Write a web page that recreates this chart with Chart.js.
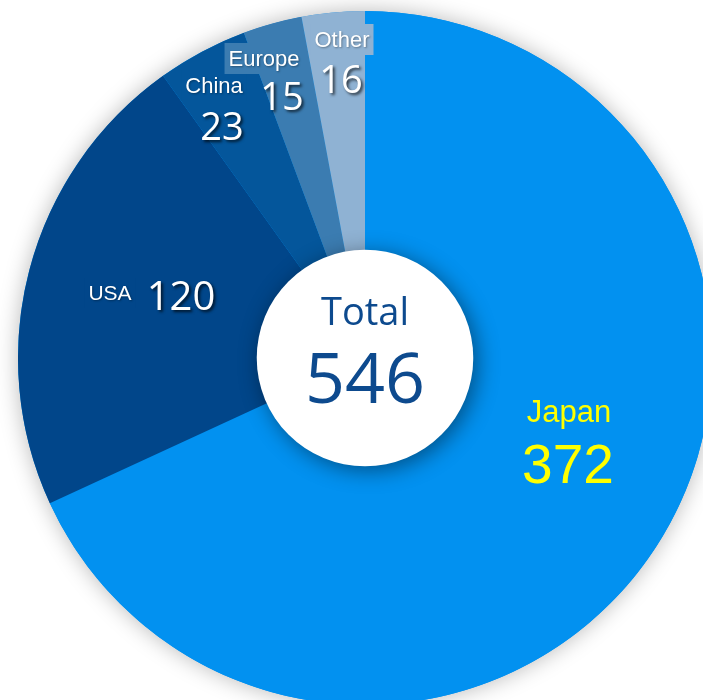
<!DOCTYPE html>
<html lang="en">
<head>
    <meta charset="UTF-8">
    <title>Total 546</title>
    <style>
        html, body {
            margin: 0;
            padding: 0;
            background-color: #ffffff;
            overflow: hidden;
        }
        .chart-box {
            position: relative;
            width: 730px;
            height: 716px;
        }
    </style>
</head>
<body>

<div class="chart-box">
    <canvas id="pieTotal"></canvas>
</div>

<script src="https://cdn.jsdelivr.net/npm/chart.js"></script>
<script>
    // dados
    const regioes = ['Japan', 'USA', 'China', 'Europe', 'Other'];
    const valores = [372, 120, 23, 15, 16];
    const cores = ['#0291f0', '#01468a', '#04569b', '#3b7cb1', '#8fb2d3'];

    // posição dos rótulos (deslocamento a partir do centro, px)
    const rotulos = [
        { nome: [204, 64], valor: [203, 125], corNome: '#ffff00', corValor: '#ffff00', nomeFont: '31px "Liberation Sans"', valorFont: '55px "Liberation Sans"', sombra: false, fundo: false },
        { nome: [-255, -58], valor: [-184, -48], corNome: '#ffffff', corValor: '#ffffff', nomeFont: '21px "Liberation Sans"', valorFont: '500 40px "Open Sans"', sombra: true, fundo: true },
        { nome: [-151, -265], valor: [-143, -218], corNome: '#ffffff', corValor: '#ffffff', nomeFont: '22px "Liberation Sans"', valorFont: '500 38px "Open Sans"', sombra: true, fundo: true },
        { nome: [-101, -292], valor: [-83, -248], corNome: '#ffffff', corValor: '#ffffff', nomeFont: '22px "Liberation Sans"', valorFont: '500 38px "Open Sans"', sombra: true, fundo: true },
        { nome: [-23, -311], valor: [-24, -265], corNome: '#ffffff', corValor: '#ffffff', nomeFont: '22px "Liberation Sans"', valorFont: '500 38px "Open Sans"', sombra: true, fundo: true }
    ];

    const total = valores.reduce((acc, cur) => acc + cur, 0);

    const sombraPizza = {
        id: 'sombraPizza',
        beforeDatasetsDraw(chart) {
            const arco = chart.getDatasetMeta(0).data[0];
            const ctx = chart.ctx;
            ctx.save();
            ctx.shadowColor = 'rgba(0, 0, 0, 0.28)';
            ctx.shadowBlur = 22;
            ctx.fillStyle = cores[0];
            ctx.beginPath();
            ctx.arc(arco.x, arco.y, arco.outerRadius, 0, Math.PI * 2);
            ctx.fill();
            ctx.restore();
        }
    };

    const centroTotal = {
        id: 'centroTotal',
        afterDatasetsDraw(chart) {
            const meta = chart.getDatasetMeta(0);
            const arco = meta.data[0];
            const ctx = chart.ctx;
            const cx = arco.x, cy = arco.y;

            // círculo branco
            ctx.save();
            ctx.shadowColor = 'rgba(0, 0, 0, 0.45)';
            ctx.shadowBlur = 22;
            ctx.shadowOffsetX = 4;
            ctx.shadowOffsetY = 4;
            ctx.fillStyle = '#ffffff';
            ctx.beginPath();
            ctx.arc(cx, cy, arco.outerRadius * 0.312, 0, Math.PI * 2);
            ctx.fill();
            ctx.restore();

            ctx.save();
            ctx.textAlign = 'center';
            ctx.textBaseline = 'alphabetic';
            ctx.fillStyle = '#0d4a8e';
            ctx.font = '500 38px "Open Sans"';
            ctx.fillText('Total', cx, cy - 33);
            ctx.font = '500 70px "Open Sans"';
            ctx.fillText(String(total), cx, cy + 45);
            ctx.restore();

            // rótulos
            rotulos.forEach((r, i) => {
                ctx.save();
                ctx.textAlign = 'center';
                ctx.textBaseline = 'alphabetic';
                ctx.font = r.nomeFont;
                const nx = cx + r.nome[0], ny = cy + r.nome[1];
                if (r.fundo) {
                    const w = ctx.measureText(regioes[i]).width;
                    const h = parseInt(r.nomeFont, 10);
                    ctx.fillStyle = cores[i];
                    ctx.fillRect(nx - w / 2 - 4, ny - h - 1, w + 8, h + 9);
                }
                if (r.sombra) {
                    ctx.shadowColor = 'rgba(0, 0, 0, 0.35)';
                    ctx.shadowBlur = 2;
                    ctx.shadowOffsetX = 1;
                    ctx.shadowOffsetY = 1;
                }
                ctx.fillStyle = r.corNome;
                ctx.fillText(regioes[i], nx, ny);

                ctx.font = r.valorFont;
                if (r.sombra) {
                    ctx.shadowColor = 'rgba(0, 0, 0, 0.7)';
                    ctx.shadowBlur = 3;
                    ctx.shadowOffsetX = 2;
                    ctx.shadowOffsetY = 2;
                }
                ctx.fillStyle = r.corValor;
                ctx.fillText(String(valores[i]), cx + r.valor[0], cy + r.valor[1]);
                ctx.restore();
            });
        }
    };

    new Chart(document.getElementById('pieTotal').getContext('2d'), {
        type: 'pie',
        data: {
            labels: regioes,
            datasets: [{
                data: valores,
                backgroundColor: cores,
                borderWidth: 0,
                hoverOffset: 0
            }]
        },
        options: {
            responsive: true,
            maintainAspectRatio: false,
            animation: false,
            layout: { padding: 11 },
            plugins: {
                legend: { display: false },
                tooltip: { enabled: false }
            }
        },
        plugins: [sombraPizza, centroTotal]
    });
</script>

</body>
</html>
